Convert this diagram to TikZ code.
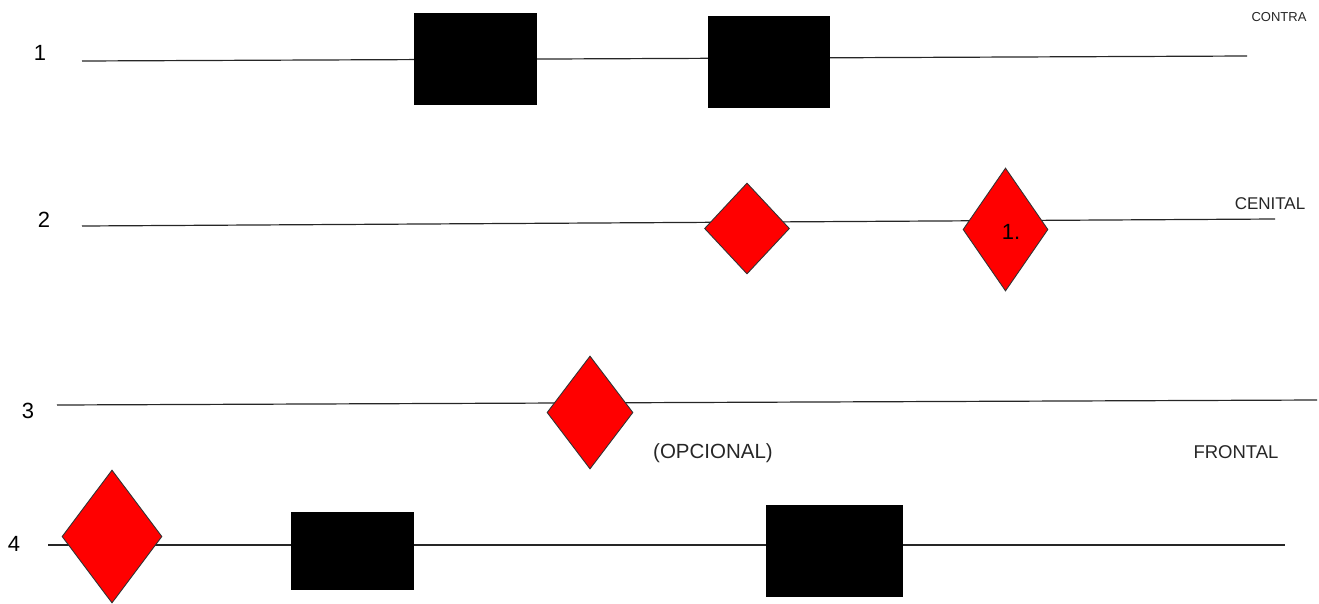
\documentclass[tikz,border=0pt]{standalone}
\usepackage{fontspec}
\setmainfont{Liberation Sans}
\usetikzlibrary{shapes.geometric}
\begin{document}
\begin{tikzpicture}[x=1pt,y=-1pt,
  track/.style={draw=black!85, line width=1.2pt},
  blackbox/.style={draw=none, fill=black, rectangle, inner sep=0pt},
  reddia/.style={diamond, draw=black!80, line width=0.9pt, fill=red, inner sep=0pt},
  num/.style={font=\fontsize{22}{24}\selectfont, inner sep=0pt},
  lbl/.style={inner sep=0pt, text=black!85}]
\useasboundingbox (0,0) rectangle (1319,603);
% track end points
\coordinate (a1) at (82,61);  \coordinate (b1) at (1247,56);
\coordinate (a2) at (82,226); \coordinate (b2) at (1275,219);
\coordinate (a3) at (57,405); \coordinate (b3) at (1317,400);
\coordinate (a4) at (48,545); \coordinate (b4) at (1285,545);
\draw[track] (a1) -- (b1);
\draw[track] (a2) -- (b2);
\draw[track] (a3) -- (b3);
\draw[track] (a4) -- (b4);
% boxes
\node[blackbox, minimum width=123pt, minimum height=92pt] (r1) at (475.5,59) {};
\node[blackbox, minimum width=122pt, minimum height=92pt] (r2) at (769,62) {};
\node[blackbox, minimum width=123pt, minimum height=78pt] (r3) at (352.5,551) {};
\node[blackbox, minimum width=137pt, minimum height=92pt] (r4) at (834.5,551) {};
% diamonds
\node[reddia, minimum width=85pt, minimum height=91pt] (d1) at (747,228.5) {};
\node[reddia, minimum width=85pt, minimum height=123pt] (d2) at (1005.5,229.5) {};
\node[inner sep=0pt, font=\fontsize{22}{24}\selectfont] (d2t) at (1011,232) {1.};
\node[reddia, minimum width=86pt, minimum height=113pt] (d3) at (590,412.5) {};
\node[reddia, minimum width=100pt, minimum height=133pt] (d4) at (112,536.5) {};
% row numbers
\node[num] (n1) at (40,53) {1};
\node[num] (n2) at (44,220) {2};
\node[num] (n3) at (28,411) {3};
\node[num] (n4) at (14,544) {4};
% labels
\node[lbl, font=\fontsize{13}{14}\selectfont] (contra) at (1279,17) {CONTRA};
\node[lbl, font=\fontsize{17}{18}\selectfont] (cenital) at (1270,204) {CENITAL};
\node[lbl, font=\fontsize{18.5}{20}\selectfont] (frontal) at (1236,452) {FRONTAL};
\node[lbl, font=\fontsize{20.5}{22}\selectfont] (opc) at (713,453) {(OPCIONAL)};
\end{tikzpicture}
\end{document}
